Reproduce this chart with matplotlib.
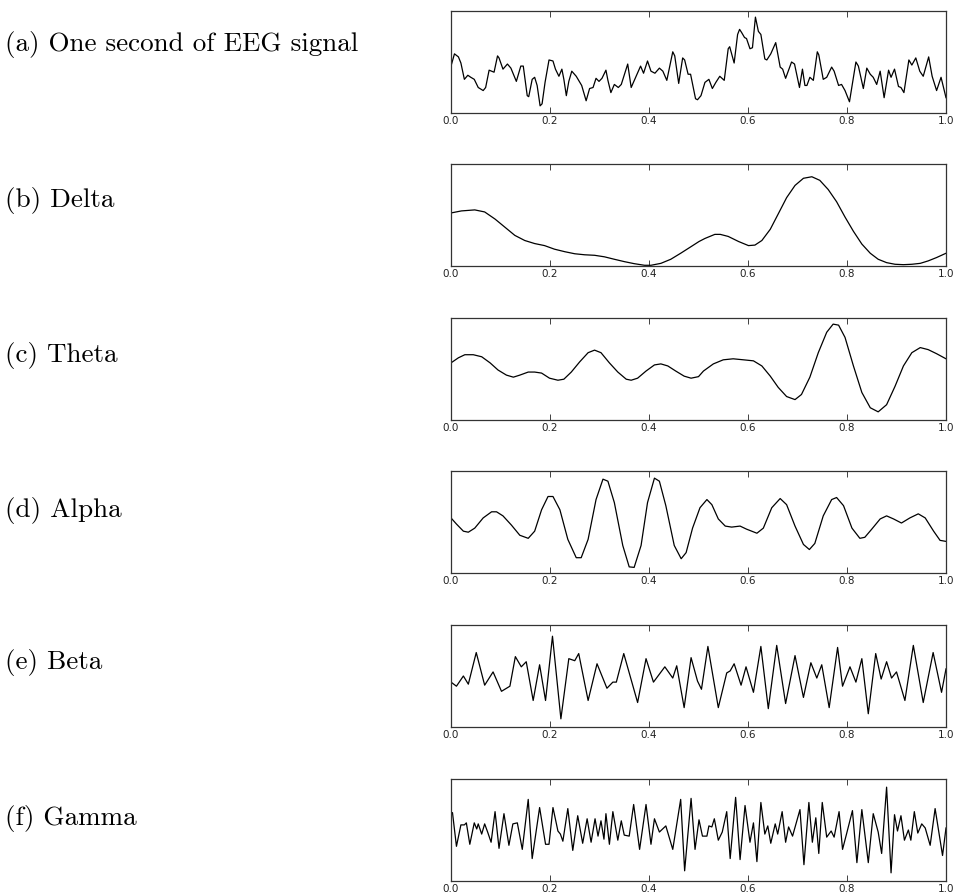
import matplotlib
matplotlib.use("Agg")
import matplotlib.pyplot as plt
from matplotlib.ticker import FormatStrFormatter

# values: x in seconds, y as a fraction of the panel height
eeg_t = [0.0, 0.007, 0.015, 0.02, 0.027, 0.034, 0.04, 0.047, 0.055, 0.065, 0.07, 0.077, 0.082, 0.087,
         0.094, 0.097, 0.105, 0.114, 0.121, 0.132, 0.141, 0.146, 0.154, 0.157, 0.164, 0.169, 0.174,
         0.18, 0.184, 0.19, 0.198, 0.206, 0.211, 0.218, 0.224, 0.228, 0.233, 0.238, 0.244, 0.253,
         0.258, 0.264, 0.273, 0.28, 0.287, 0.293, 0.299, 0.305, 0.313, 0.317, 0.323, 0.33, 0.338,
         0.344, 0.357, 0.364, 0.374, 0.383, 0.389, 0.397, 0.404, 0.412, 0.421, 0.428, 0.436, 0.448,
         0.452, 0.46, 0.468, 0.472, 0.479, 0.484, 0.494, 0.498, 0.505, 0.513, 0.521, 0.528, 0.535,
         0.543, 0.552, 0.56, 0.563, 0.572, 0.579, 0.583, 0.587, 0.593, 0.597, 0.604, 0.609, 0.615,
         0.621, 0.626, 0.634, 0.638, 0.646, 0.656, 0.665, 0.67, 0.676, 0.688, 0.694, 0.704, 0.71,
         0.715, 0.719, 0.725, 0.732, 0.74, 0.743, 0.752, 0.759, 0.769, 0.774, 0.783, 0.789, 0.796,
         0.805, 0.818, 0.823, 0.833, 0.84, 0.847, 0.853, 0.86, 0.867, 0.875, 0.884, 0.889, 0.896,
         0.904, 0.909, 0.915, 0.925, 0.931, 0.939, 0.947, 0.954, 0.965, 0.972, 0.981, 0.99, 1.0]
eeg_v = [0.46, 0.58, 0.55, 0.49, 0.33, 0.37, 0.35, 0.33, 0.25, 0.22, 0.25, 0.42, 0.41, 0.40,
         0.56, 0.54, 0.43, 0.48, 0.44, 0.31, 0.46, 0.46, 0.17, 0.16, 0.33, 0.35, 0.27,
         0.07, 0.09, 0.30, 0.52, 0.51, 0.43, 0.36, 0.43, 0.33, 0.17, 0.31, 0.41, 0.36,
         0.32, 0.27, 0.12, 0.24, 0.25, 0.34, 0.31, 0.34, 0.42, 0.32, 0.20, 0.28, 0.25,
         0.28, 0.48, 0.25, 0.36, 0.46, 0.39, 0.51, 0.41, 0.39, 0.44, 0.41, 0.32, 0.60,
         0.56, 0.29, 0.54, 0.52, 0.38, 0.38, 0.14, 0.13, 0.17, 0.30, 0.33, 0.24, 0.30,
         0.36, 0.32, 0.63, 0.65, 0.49, 0.77, 0.82, 0.79, 0.74, 0.73, 0.63, 0.64, 0.94,
         0.80, 0.77, 0.53, 0.52, 0.58, 0.69, 0.45, 0.43, 0.34, 0.50, 0.48, 0.25, 0.43,
         0.27, 0.27, 0.35, 0.32, 0.60, 0.57, 0.33, 0.35, 0.45, 0.41, 0.27, 0.28, 0.22,
         0.11, 0.50, 0.46, 0.24, 0.44, 0.38, 0.35, 0.28, 0.41, 0.15, 0.42, 0.35, 0.43,
         0.26, 0.25, 0.20, 0.52, 0.47, 0.54, 0.41, 0.36, 0.55, 0.36, 0.22, 0.35, 0.15]

delta_t = [0.0, 0.021, 0.048, 0.068, 0.089, 0.109, 0.129, 0.149, 0.169, 0.189, 0.209, 0.23, 0.25,
           0.27, 0.29, 0.31, 0.33, 0.35, 0.37, 0.391, 0.404, 0.424, 0.444, 0.464, 0.485, 0.501,
           0.513, 0.533, 0.544, 0.56, 0.581, 0.601, 0.614, 0.628, 0.645, 0.661, 0.678, 0.695,
           0.712, 0.729, 0.745, 0.762, 0.779, 0.796, 0.813, 0.83, 0.847, 0.863, 0.88, 0.897,
           0.914, 0.931, 0.948, 0.964, 0.981, 1.0]
delta_v = [0.52, 0.54, 0.55, 0.53, 0.46, 0.38, 0.30, 0.25, 0.22, 0.20, 0.165, 0.14, 0.12,
           0.11, 0.105, 0.09, 0.066, 0.043, 0.023, 0.007, 0.007, 0.026, 0.066, 0.125, 0.19, 0.24,
           0.27, 0.31, 0.31, 0.29, 0.24, 0.20, 0.205, 0.25, 0.36, 0.51, 0.67, 0.79,
           0.86, 0.875, 0.84, 0.75, 0.63, 0.48, 0.34, 0.215, 0.125, 0.066, 0.033, 0.017,
           0.013, 0.017, 0.026, 0.05, 0.083, 0.125]

theta_t = [0.0, 0.015, 0.028, 0.045, 0.062, 0.079, 0.095, 0.112, 0.126, 0.139, 0.156, 0.169, 0.183,
           0.199, 0.216, 0.228, 0.243, 0.26, 0.277, 0.29, 0.303, 0.32, 0.337, 0.354, 0.364, 0.377,
           0.394, 0.411, 0.424, 0.438, 0.454, 0.471, 0.485, 0.5, 0.51, 0.53, 0.55, 0.57, 0.591,
           0.611, 0.628, 0.645, 0.661, 0.678, 0.695, 0.708, 0.725, 0.742, 0.759, 0.772, 0.783,
           0.796, 0.813, 0.83, 0.847, 0.863, 0.88, 0.897, 0.914, 0.931, 0.948, 0.964, 0.981, 1.0]
theta_v = [0.56, 0.61, 0.64, 0.64, 0.62, 0.56, 0.49, 0.44, 0.42, 0.44, 0.47, 0.47, 0.46,
           0.41, 0.39, 0.40, 0.47, 0.57, 0.66, 0.685, 0.66, 0.56, 0.47, 0.40, 0.39, 0.41,
           0.48, 0.54, 0.55, 0.53, 0.48, 0.43, 0.41, 0.425, 0.48, 0.55, 0.59, 0.60, 0.59,
           0.58, 0.53, 0.43, 0.32, 0.23, 0.20, 0.25, 0.42, 0.66, 0.86, 0.94, 0.93,
           0.81, 0.53, 0.27, 0.12, 0.08, 0.15, 0.33, 0.53, 0.66, 0.71, 0.69, 0.65, 0.60]

alpha_t = [0.0, 0.011, 0.025, 0.035, 0.048, 0.065, 0.082, 0.092, 0.105, 0.122, 0.139, 0.156, 0.169,
           0.183, 0.196, 0.206, 0.22, 0.236, 0.253, 0.263, 0.277, 0.293, 0.307, 0.317, 0.33, 0.347,
           0.36, 0.37, 0.384, 0.397, 0.411, 0.421, 0.434, 0.451, 0.465, 0.475, 0.488, 0.503,
           0.517, 0.527, 0.54, 0.554, 0.567, 0.584, 0.597, 0.618, 0.631, 0.648, 0.665, 0.678,
           0.695, 0.712, 0.724, 0.735, 0.752, 0.769, 0.779, 0.793, 0.81, 0.826, 0.836, 0.85,
           0.867, 0.88, 0.894, 0.91, 0.927, 0.944, 0.958, 0.975, 0.988, 1.0]
alpha_v = [0.54, 0.48, 0.41, 0.40, 0.44, 0.54, 0.60, 0.60, 0.56, 0.47, 0.37, 0.34, 0.41,
           0.62, 0.75, 0.75, 0.62, 0.33, 0.15, 0.15, 0.33, 0.72, 0.92, 0.90, 0.69, 0.27,
           0.06, 0.055, 0.27, 0.69, 0.93, 0.90, 0.66, 0.27, 0.14, 0.20, 0.44, 0.64,
           0.72, 0.67, 0.53, 0.46, 0.45, 0.46, 0.43, 0.39, 0.44, 0.64, 0.73, 0.67,
           0.46, 0.28, 0.23, 0.29, 0.56, 0.72, 0.74, 0.66, 0.44, 0.34, 0.35, 0.43,
           0.53, 0.56, 0.53, 0.49, 0.54, 0.58, 0.54, 0.41, 0.32, 0.31]

beta_t = [0.0, 0.011, 0.025, 0.035, 0.051, 0.068, 0.085, 0.102, 0.119, 0.13, 0.142, 0.152, 0.166,
          0.179, 0.191, 0.205, 0.222, 0.238, 0.25, 0.258, 0.277, 0.295, 0.315, 0.327, 0.334, 0.349,
          0.377, 0.394, 0.409, 0.432, 0.448, 0.456, 0.471, 0.485, 0.498, 0.506, 0.519, 0.54,
          0.557, 0.564, 0.572, 0.586, 0.596, 0.611, 0.626, 0.641, 0.658, 0.676, 0.695, 0.712,
          0.727, 0.739, 0.749, 0.764, 0.781, 0.791, 0.806, 0.818, 0.83, 0.843, 0.858, 0.869,
          0.88, 0.89, 0.9, 0.917, 0.934, 0.954, 0.974, 0.991, 1.0]
beta_v = [0.44, 0.40, 0.50, 0.42, 0.73, 0.41, 0.54, 0.35, 0.40, 0.69, 0.59, 0.64, 0.26,
          0.61, 0.26, 0.89, 0.08, 0.67, 0.65, 0.72, 0.26, 0.62, 0.38, 0.44, 0.44, 0.72,
          0.24, 0.67, 0.44, 0.59, 0.48, 0.60, 0.19, 0.68, 0.45, 0.37, 0.79, 0.19,
          0.53, 0.55, 0.62, 0.41, 0.59, 0.34, 0.79, 0.18, 0.80, 0.23, 0.70, 0.29,
          0.63, 0.48, 0.61, 0.19, 0.78, 0.40, 0.59, 0.44, 0.67, 0.13, 0.72, 0.47,
          0.64, 0.48, 0.54, 0.26, 0.80, 0.24, 0.73, 0.34, 0.57]

gamma_t = [0.0, 0.003, 0.011, 0.02, 0.027, 0.031, 0.038, 0.047, 0.052, 0.055, 0.062, 0.068, 0.074,
           0.081, 0.089, 0.097, 0.107, 0.117, 0.125, 0.134, 0.144, 0.156, 0.164, 0.179, 0.191,
           0.198, 0.206, 0.216, 0.221, 0.226, 0.236, 0.246, 0.256, 0.266, 0.275, 0.283, 0.291,
           0.297, 0.303, 0.309, 0.313, 0.32, 0.327, 0.337, 0.344, 0.35, 0.36, 0.369, 0.381,
           0.394, 0.404, 0.411, 0.421, 0.434, 0.448, 0.464, 0.472, 0.485, 0.493, 0.501, 0.508,
           0.517, 0.521, 0.527, 0.532, 0.54, 0.548, 0.557, 0.564, 0.575, 0.584, 0.594, 0.604,
           0.611, 0.618, 0.626, 0.634, 0.64, 0.646, 0.655, 0.66, 0.669, 0.676, 0.682, 0.69,
           0.705, 0.713, 0.723, 0.73, 0.737, 0.743, 0.75, 0.759, 0.768, 0.774, 0.784, 0.791,
           0.799, 0.811, 0.82, 0.83, 0.843, 0.853, 0.863, 0.87, 0.88, 0.889, 0.896, 0.902,
           0.909, 0.916, 0.924, 0.929, 0.936, 0.943, 0.951, 0.958, 0.968, 0.978, 0.993, 1.0]
gamma_v = [0.67, 0.67, 0.34, 0.55, 0.55, 0.57, 0.36, 0.57, 0.51, 0.56, 0.46, 0.56, 0.48,
           0.38, 0.68, 0.32, 0.66, 0.35, 0.56, 0.57, 0.31, 0.80, 0.22, 0.72, 0.36,
           0.36, 0.72, 0.49, 0.46, 0.39, 0.71, 0.30, 0.64, 0.37, 0.61, 0.38, 0.61,
           0.44, 0.59, 0.41, 0.66, 0.36, 0.68, 0.40, 0.59, 0.45, 0.44, 0.75, 0.31,
           0.75, 0.36, 0.61, 0.48, 0.54, 0.31, 0.80, 0.10, 0.81, 0.31, 0.60, 0.44,
           0.44, 0.54, 0.53, 0.61, 0.40, 0.48, 0.68, 0.22, 0.82, 0.21, 0.74, 0.38,
           0.57, 0.19, 0.77, 0.46, 0.54, 0.37, 0.56, 0.46, 0.68, 0.38, 0.53, 0.44,
           0.70, 0.16, 0.77, 0.38, 0.62, 0.27, 0.77, 0.43, 0.49, 0.43, 0.68, 0.31,
           0.46, 0.69, 0.18, 0.70, 0.18, 0.66, 0.48, 0.27, 0.92, 0.08, 0.65, 0.49,
           0.64, 0.40, 0.50, 0.40, 0.68, 0.47, 0.56, 0.52, 0.35, 0.71, 0.25, 0.52]

captions = ["(a) One second of EEG signal", "(b) Delta", "(c) Theta",
            "(d) Alpha", "(e) Beta", "(f) Gamma"]

W, H = 956, 896
panel_tops = [11, 164, 318, 471, 625, 779]  # px
panel_h = 102
caption_y = [45, 200, 355, 510, 663, 818]   # px


def draw_panel(fig, top, t, v):
    ax = fig.add_axes([451 / W, 1 - (top + panel_h) / H, 495 / W, panel_h / H])
    ax.plot(t, v, color="black", lw=0.9, solid_joinstyle="round")
    ax.set_xlim(0, 1)
    ax.set_ylim(0, 1)
    ax.set_yticks([])
    ax.set_xticks([0.0, 0.2, 0.4, 0.6, 0.8, 1.0])
    ax.xaxis.set_major_formatter(FormatStrFormatter("%.1f"))
    ax.tick_params(axis="x", direction="in", top=True, length=4, width=0.6,
                   labelsize=7.5, pad=2, colors="#222222")
    for sp in ax.spines.values():
        sp.set_linewidth(0.9)
        sp.set_color("#333333")
    return ax


def main():
    fig = plt.figure(figsize=(W / 100, H / 100), dpi=100)
    series = [(eeg_t, eeg_v), (delta_t, delta_v), (theta_t, theta_v),
              (alpha_t, alpha_v), (beta_t, beta_v), (gamma_t, gamma_v)]
    for top, (t, v) in zip(panel_tops, series):
        draw_panel(fig, top, t, v)
    for cap, y in zip(captions, caption_y):
        fig.text(5 / W, 1 - y / H, cap, family="cmr10", fontsize=19.5,
                 ha="left", va="center")
    fig.savefig("out.png", dpi=100)


if __name__ == "__main__":
    main()
